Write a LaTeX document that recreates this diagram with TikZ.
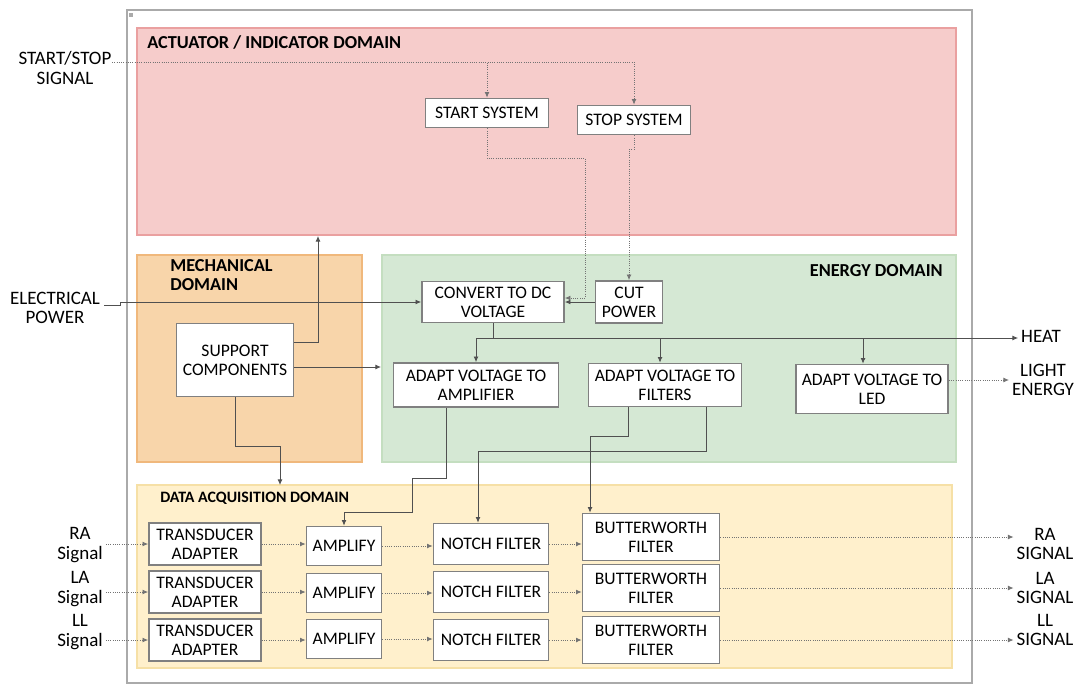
\documentclass[tikz,border=0pt]{standalone}
\usepackage{fontspec}
\setmainfont{Carlito}
\usetikzlibrary{arrows.meta}
\definecolor{atuador}{RGB}{246,204,203}
\definecolor{atuadorborda}{RGB}{234,160,160}
\definecolor{mecanico}{RGB}{248,213,170}
\definecolor{mecanicoborda}{RGB}{240,184,124}
\definecolor{energia}{RGB}{213,232,212}
\definecolor{energiaborda}{RGB}{196,222,192}
\definecolor{aquisicao}{RGB}{255,240,204}
\definecolor{aquisicaoborda}{RGB}{246,224,166}
\definecolor{moldura}{RGB}{170,170,170}
\definecolor{caixaborda}{RGB}{128,128,128}
\definecolor{linhacor}{RGB}{80,80,80}
\newdimen\unidad
\unidad=0.025cm
\tikzset{
  caixa/.style={draw=caixaborda, line width=1.2pt, fill=white, align=center, inner sep=1pt, font=\fontsize{12.5}{13.5}\selectfont},
  rotulo/.style={align=center, inner sep=2pt, font=\fontsize{13.5}{14}\selectfont},
  titulo/.style={anchor=west, align=left, inner sep=0pt, font=\fontsize{13}{13.5}\selectfont\bfseries},
  linha/.style={draw=linhacor, line width=0.6pt},
  seta/.style={linha, -{Latex[length=4pt,width=3.5pt]}},
  sinal/.style={seta, densely dotted, draw=linhacor!80}
}
\begin{document}
\begin{tikzpicture}[x=0.025cm, y=-0.025cm]
\useasboundingbox (0,0) rectangle (1075,683);
% moldura e dominios
\draw[moldura, line width=0.8pt] (127,10) rectangle (972,683);
\fill[moldura] (129,13) rectangle (133,17);
\filldraw[fill=atuador, draw=atuadorborda, line width=0.8pt] (137,28) rectangle (956,235);
\filldraw[fill=mecanico, draw=mecanicoborda, line width=0.8pt] (137,255) rectangle (362,462);
\filldraw[fill=energia, draw=energiaborda, line width=0.8pt] (382,255) rectangle (956,462);
\filldraw[fill=aquisicao, draw=aquisicaoborda, line width=0.8pt] (137,485) rectangle (952,668);
\node[titulo] (tatuador) at (147,43) {ACTUATOR / INDICATOR DOMAIN};
\node[titulo] (tmecanico) at (170,275) {MECHANICAL\\DOMAIN};
\node[titulo, anchor=east] (tenergia) at (943,271) {ENERGY DOMAIN};
\node[titulo, font=\fontsize{11.3}{12}\selectfont\bfseries] (taquisicao) at (160,498) {DATA ACQUISITION DOMAIN};
% blocos
\node[caixa, minimum width=123\unidad, minimum height=29\unidad] (start) at (487,113) {START SYSTEM};
\node[caixa, minimum width=113\unidad, minimum height=29\unidad] (stop) at (634,120) {STOP SYSTEM};
\node[caixa, minimum width=142\unidad, minimum height=41\unidad] (convert) at (493,302) {CONVERT TO DC\\VOLTAGE};
\node[caixa, minimum width=67\unidad, minimum height=42\unidad] (cut) at (629,302) {CUT\\POWER};
\node[caixa, minimum width=117\unidad, minimum height=73\unidad] (support) at (235,360) {SUPPORT\\COMPONENTS};
\node[caixa, minimum width=165\unidad, minimum height=44\unidad] (adaptamp) at (476,385) {ADAPT VOLTAGE TO\\AMPLIFIER};
\node[caixa, minimum width=153\unidad, minimum height=43\unidad] (adaptfil) at (665,385) {ADAPT VOLTAGE TO\\FILTERS};
\node[caixa, minimum width=152\unidad, minimum height=49\unidad] (adaptled) at (872,389) {ADAPT VOLTAGE TO\\LED};
\node[caixa, minimum width=112\unidad, minimum height=42\unidad] (tra1) at (205,544) {TRANSDUCER\\ADAPTER};
\node[caixa, minimum width=112\unidad, minimum height=42\unidad] (tra2) at (205,592) {TRANSDUCER\\ADAPTER};
\node[caixa, minimum width=112\unidad, minimum height=42\unidad] (tra3) at (205,640) {TRANSDUCER\\ADAPTER};
\node[caixa, minimum width=75\unidad, minimum height=39\unidad] (amp1) at (344,546) {AMPLIFY};
\node[caixa, minimum width=75\unidad, minimum height=39\unidad] (amp2) at (344,593) {AMPLIFY};
\node[caixa, minimum width=75\unidad, minimum height=39\unidad] (amp3) at (344,639) {AMPLIFY};
\node[caixa, minimum width=115\unidad, minimum height=41\unidad] (notch1) at (491,544) {NOTCH FILTER};
\node[caixa, minimum width=115\unidad, minimum height=41\unidad] (notch2) at (491,592) {NOTCH FILTER};
\node[caixa, minimum width=115\unidad, minimum height=41\unidad] (notch3) at (491,640) {NOTCH FILTER};
\node[caixa, minimum width=137\unidad, minimum height=47\unidad] (butter1) at (651,537) {BUTTERWORTH\\FILTER};
\node[caixa, minimum width=137\unidad, minimum height=47\unidad] (butter2) at (651,588) {BUTTERWORTH\\FILTER};
\node[caixa, minimum width=137\unidad, minimum height=47\unidad] (butter3) at (651,640) {BUTTERWORTH\\FILTER};
% entradas e saidas
\node[rotulo] (startstop) at (65,68) {START/STOP\\SIGNAL};
\node[rotulo] (eletrica) at (55,308) {ELECTRICAL\\POWER};
\node[rotulo] (heat) at (1041,336) {HEAT};
\node[rotulo] (light) at (1043,380) {LIGHT\\ENERGY};
\node[rotulo] (rain) at (80,545) {RA\\Signal};
\node[rotulo] (lain) at (80,589) {LA\\Signal};
\node[rotulo] (llin) at (80,632) {LL\\Signal};
\node[rotulo] (raout) at (1045,544) {RA\\SIGNAL};
\node[rotulo] (laout) at (1045,588) {LA\\SIGNAL};
\node[rotulo] (llout) at (1045,630) {LL\\SIGNAL};
\coordinate (ssout) at (112,62);
\coordinate (elout) at (104,305);
\coordinate (atuadorbase) at (318,236);
\coordinate (energiaesq) at (381,367);
\coordinate (aquisicaotopo) at (280,485);
\coordinate (bus) at (493,338);
% sinais de controle
\draw[sinal] (ssout) -| (start.north);
\draw[sinal] (ssout) -| (stop.north);
\draw[sinal] (start.south) |- (585,158) |- ([yshift=4\unidad]convert.east);
\draw[sinal] (stop.south) -- ++(0,14) -| (cut.north);
\draw[seta] (cut.west) -- (convert.east);
% energia
\draw[seta] (elout) -| (120,302) -- (convert.west);
\draw[seta] ([yshift=18\unidad]support.east) -| (atuadorbase);
\draw[seta] ([yshift=-7\unidad]support.east) -- (energiaesq);
\draw[seta] (support.south) |- (280,446) -- (aquisicaotopo);
\draw[linha] (convert.south) -- (bus);
\draw[seta] (adaptamp.north |- bus) -- (heat.west |- bus);
\draw[seta] (adaptamp.north |- bus) -- (adaptamp.north);
\draw[seta] ([xshift=-5\unidad]adaptfil.north |- bus) -- ([xshift=-5\unidad]adaptfil.north);
\draw[seta] ([xshift=-9\unidad]adaptled.north |- bus) -- ([xshift=-9\unidad]adaptled.north);
\draw[sinal] (adaptled.east |- light.west) -- (light.west);
\draw[seta] ([xshift=-30\unidad]adaptamp.south) |- (412,478) |- (344,512) -- (amp1.north);
\draw[seta] ([xshift=-37\unidad]adaptfil.south) |- (590,436) -- ([xshift=-61\unidad]butter1.north);
\draw[seta] ([xshift=41\unidad]adaptfil.south) |- (478,451) -- ([xshift=-13\unidad]notch1.north);
% canais de aquisicao
\draw[sinal] (rain.east |- tra1.west) -- (tra1.west);
\draw[sinal] (lain.east |- tra2.west) -- (tra2.west);
\draw[sinal] (llin.east |- tra3.west) -- (tra3.west);
\draw[sinal] (tra1.east) -- (amp1.west |- tra1.east);
\draw[sinal] (tra2.east) -- (amp2.west |- tra2.east);
\draw[sinal] (tra3.east) -- (amp3.west |- tra3.east);
\draw[sinal] (amp1.east) -- (notch1.west |- amp1.east);
\draw[sinal] (amp2.east) -- (notch2.west |- amp2.east);
\draw[sinal] (amp3.east) -- (notch3.west |- amp3.east);
\draw[sinal] (notch1.east) -- (butter1.west |- notch1.east);
\draw[sinal] (notch2.east) -- (butter2.west |- notch2.east);
\draw[sinal] (notch3.east) -- (butter3.west |- notch3.east);
\draw[sinal] (butter1.east) -- (raout.west |- butter1.east);
\draw[sinal] (butter2.east) -- (laout.west |- butter2.east);
\draw[sinal] (butter3.east) -- (llout.west |- butter3.east);
\end{tikzpicture}
\end{document}
